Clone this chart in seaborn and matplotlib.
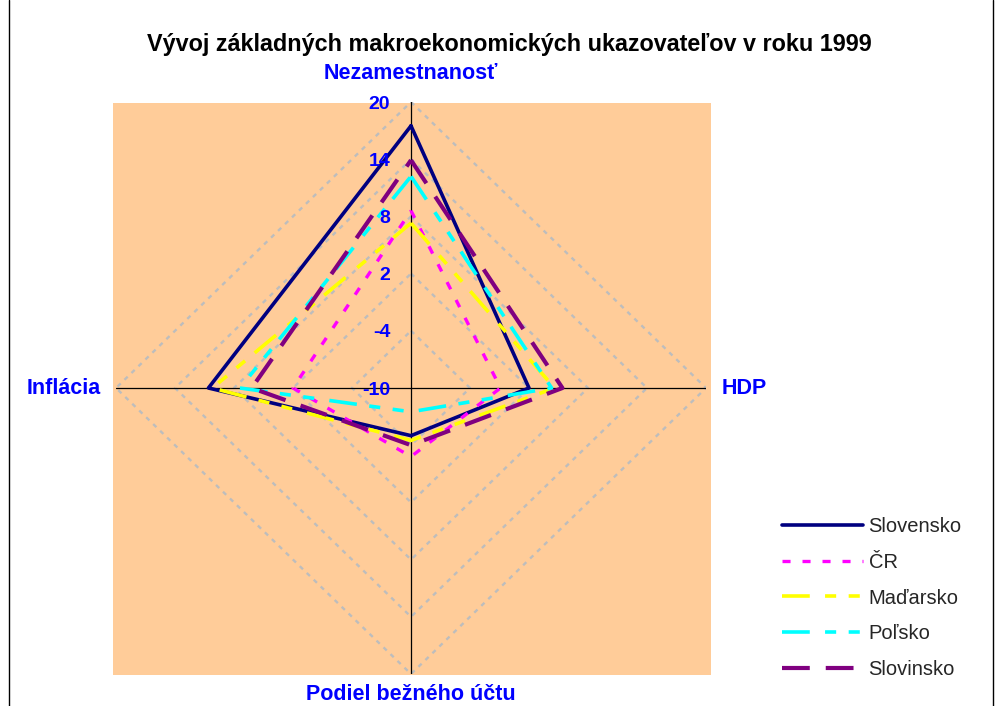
import numpy as np
import pandas as pd
import matplotlib
matplotlib.use("Agg")
import matplotlib.pyplot as plt
import seaborn as sns
from matplotlib.lines import Line2D

# ---- data ----
categories = ["Nezamestnanosť", "HDP", "Podiel bežného účtu", "Inflácia"]
countries = ["Slovensko", "ČR", "Maďarsko", "Poľsko", "Slovinsko"]
slovensko = [17.5, 2.0, -5.0, 10.6]
cr = [8.6, -0.9, -2.8, 2.0]
madarsko = [7.3, 4.6, -4.5, 10.2]
polsko = [12.2, 4.3, -7.5, 7.4]
slovinsko = [13.9, 5.4, -4.0, 6.2]
ticks = [-10, -4, 2, 8, 14, 20]
title = "Vývoj základných makroekonomických ukazovateľov v roku 1999"

series = [slovensko, cr, madarsko, polsko, slovinsko]
colors = ["#000080", "#FF00FF", "#FFFF00", "#00FFFF", "#800080"]
styles = ["-", (0, (5.8, 8.6)), (0, (20, 11, 8, 9, 8, 9)),
          (0, (20, 11, 8, 9, 8, 9)), (0, (20, 11.5))]
widths = [2.6, 2.4, 2.6, 2.6, 3.0]

sns.set_theme(style="white")
plt.rcParams["font.family"] = ["Liberation Sans", "DejaVu Sans"]
plt.rcParams["lines.scale_dashes"] = False

W, H = 996, 706
fig = plt.figure(figsize=(W / 100, H / 100), dpi=100)


def fx(px):
    return px / W


def fy(py):
    return 1 - py / H


# plot-area background
bg = fig.add_axes([fx(113), fy(675), (711 - 113) / W, (675 - 103) / H])
bg.set_facecolor("#FFCC99")
bg.set_xticks([])
bg.set_yticks([])
for s in bg.spines.values():
    s.set_visible(False)

# radar axes
ax = fig.add_axes([fx(116), fy(674), (706 - 116) / W, (674 - 102) / H],
                  projection="polar")
ax.set_aspect("auto")
ax.patch.set_alpha(0)
ax.set_theta_zero_location("N")
ax.set_theta_direction(-1)
ax.grid(False)
ax.spines["polar"].set_visible(False)

n = len(categories)
angles = np.arange(n) * 2 * np.pi / n
closed = np.append(angles, 2 * np.pi)

# diamond grid
for t in ticks[1:]:
    ax.plot(closed, [t] * (n + 1), color="#BDBDBD", lw=1.7,
            linestyle=(0, (3.2, 3.8)), zorder=1)
# spokes
for a in angles:
    ax.plot([a, a], [ticks[0], ticks[-1]], color="black", lw=0.9, zorder=2)

# series
for name, vals, c, ls, lw in zip(countries, series, colors, styles, widths):
    df = pd.DataFrame({"theta": closed, "value": list(vals) + [vals[0]]})
    sns.lineplot(data=df, x="theta", y="value", ax=ax, sort=False,
                 estimator=None, color=c, linestyle=ls, lw=lw, label=name,
                 zorder=3)

ax.set_ylim(ticks[0], ticks[-1])
ax.set_xticks([])
ax.set_yticks([])
ax.set_xlabel("")
ax.set_ylabel("")
handles, labels = ax.get_legend_handles_labels()
if ax.get_legend() is not None:
    ax.get_legend().remove()

# radial tick labels
for t in ticks:
    ax.annotate(str(t), xy=(0, t), xytext=(-15, -1.5), textcoords="offset points",
                ha="right", va="center", color="#0000FF", fontsize=14,
                fontweight="bold", annotation_clip=False)

# category labels
offsets = [((0, 20.5), "center", "center"),
           ((11.5, 0), "left", "center"),
           ((0, -15), "center", "center"),
           ((-11, 0), "right", "center")]
for cat, a, (off, ha, va) in zip(categories, angles, offsets):
    ax.annotate(cat, xy=(a, ticks[-1]), xytext=off, textcoords="offset points",
                ha=ha, va=va, color="#0000FF", fontsize=15.5, fontweight="bold",
                annotation_clip=False)

# title
fig.text(fx(509), fy(45), title, ha="center", va="center", fontsize=16.8,
         fontweight="bold", color="black")

# legend
fig.legend(handles, labels, loc="center left", bbox_to_anchor=(fx(782), fy(598)),
           frameon=False, fontsize=14.5, handlelength=4.0, handletextpad=0.3,
           labelspacing=0.83, borderpad=0, borderaxespad=0)

# chart-area border
fig.add_artist(Line2D([fx(9), fx(9)], [0, 1], color="black", lw=1))
fig.add_artist(Line2D([fx(993), fx(993)], [0, 1], color="black", lw=1))

fig.savefig("out.png", dpi=100, facecolor="white")
